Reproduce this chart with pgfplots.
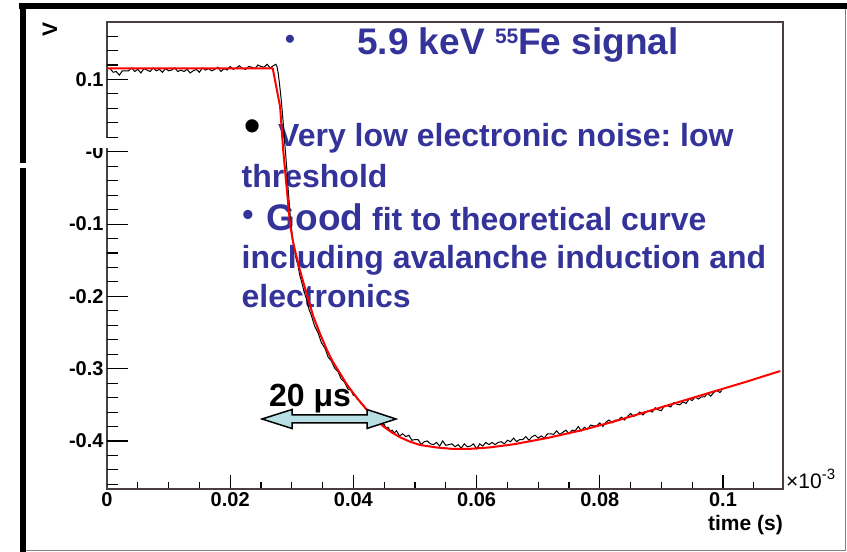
\documentclass[border=0pt]{standalone}
\usepackage{fontspec}
\setmainfont{Liberation Sans}
\usepackage{pgfplots}
\pgfplotsset{compat=1.18}
\definecolor{txtblue}{RGB}{51,51,153}
\definecolor{framec}{RGB}{75,62,62}
\definecolor{arrowfill}{RGB}{184,224,228}
\newcommand{\fs}[1]{\fontsize{#1}{#1}\selectfont}
\frenchspacing
\begin{document}
\begin{tikzpicture}
\path[use as bounding box] (0,0) rectangle (847pt,552pt);
% ---------- slide texts (behind the curves)
\begin{scope}[x=1pt,y=-1pt,yshift=552pt]
\node[anchor=center,inner sep=0,text=txtblue,font=\bfseries\fs{28}] at (290,42) {•};
\node[anchor=base west,inner sep=0,text=txtblue,font=\bfseries\fs{37}] at (357,55) {5.9 keV \raisebox{11.7pt}{\fs{21}55}Fe signal};
\node[anchor=center,inner sep=0,text=black,font=\bfseries\fs{46}] at (253,131) {•};
\node[anchor=base west,inner sep=0,text=txtblue,font=\bfseries\fs{32}] at (278,147) {Very low electronic noise: low};
\node[anchor=base west,inner sep=0,text=txtblue,font=\bfseries\fs{32}] at (241.5,188) {threshold};
\node[anchor=center,inner sep=0,text=txtblue,font=\bfseries\fs{32}] at (248,218) {•};
\node[anchor=base west,inner sep=0,text=txtblue,font=\bfseries\fs{32}] at (266.5,231) {{\fs{37}Good} fit to theoretical curve};
\node[anchor=base west,inner sep=0,text=txtblue,font=\bfseries\fs{32}] at (241.5,269) {including avalanche induction and};
\node[anchor=base west,inner sep=0,text=txtblue,font=\bfseries\fs{32}] at (241.5,308) {electronics};
\node[anchor=base west,inner sep=0,text=black,font=\bfseries\fs{32}] at (269,407) {20 μs};
\end{scope}
% ---------- main axis: data, frame, x ticks
\begin{axis}[
  at={(107pt,63pt)}, anchor=south west,
  scale only axis, width=676pt, height=467pt,
  xmin=0, xmax=0.10974, ymin=-0.4664, ymax=0.1795,
  axis line style={framec, line width=1.2pt},
  xtick={0,0.02,0.04,0.06,0.08,0.1},
  xticklabels={0,0.02,0.04,0.06,0.08,0.1},
  minor xtick={0.005,0.01,0.015,0.025,0.03,0.035,0.045,0.05,0.055,0.065,0.07,0.075,0.085,0.09,0.095,0.105},
  ytick=\empty,
  scaled x ticks=false, scaled y ticks=false,
  xtick pos=bottom, tick align=inside,
  major tick length=14pt, minor tick length=7pt,
  tick style={black, line width=1.1pt},
  xticklabel style={font=\bfseries\fs{20}, text=black},
]
\addplot[black, line width=1pt] coordinates {
(0.0005,0.115)(0.0010,0.110)(0.0015,0.111)(0.0020,0.106)(0.0025,0.112)(0.0030,0.112)
(0.0035,0.112)(0.0040,0.116)(0.0045,0.111)(0.0050,0.114)(0.0055,0.109)(0.0060,0.115)
(0.0065,0.113)(0.0070,0.111)(0.0075,0.116)(0.0080,0.112)(0.0085,0.114)(0.0090,0.110)
(0.0095,0.115)(0.0100,0.112)(0.0105,0.113)(0.0110,0.116)(0.0115,0.111)(0.0120,0.113)
(0.0125,0.111)(0.0130,0.114)(0.0135,0.109)(0.0140,0.112)(0.0145,0.114)(0.0150,0.110)
(0.0155,0.116)(0.0160,0.113)(0.0165,0.115)(0.0170,0.112)(0.0175,0.114)(0.0180,0.117)
(0.0185,0.111)(0.0190,0.115)(0.0195,0.113)(0.0200,0.118)(0.0205,0.114)(0.0210,0.116)
(0.0215,0.119)(0.0220,0.115)(0.0225,0.114)(0.0230,0.118)(0.0235,0.117)(0.0240,0.115)
(0.0245,0.120)(0.0250,0.118)(0.0255,0.117)(0.0260,0.121)(0.0265,0.116)(0.0270,0.119)
(0.0274,0.121)(0.0276,0.118)
(0.0278,0.108)(0.0280,0.094)(0.0282,0.079)(0.0284,0.061)(0.0286,0.041)(0.0288,0.017)
(0.0290,-0.003)(0.0292,-0.025)(0.0294,-0.051)(0.0296,-0.073)(0.0298,-0.094)(0.0300,-0.110)
(0.0302,-0.124)(0.0304,-0.134)(0.0307,-0.148)(0.0310,-0.157)(0.0313,-0.171)(0.0316,-0.180)
(0.0320,-0.194)(0.0324,-0.204)(0.0328,-0.218)(0.0332,-0.227)(0.0337,-0.241)(0.0343,-0.251)
(0.0348,-0.264)(0.0354,-0.272)(0.0359,-0.284)(0.0364,-0.289)(0.0370,-0.300)(0.0375,-0.304)
(0.0380,-0.314)(0.0385,-0.318)(0.0391,-0.328)(0.0396,-0.330)(0.0400,-0.337)
(0.0403,-0.337)(0.0406,-0.342)(0.0410,-0.344)(0.0413,-0.349)(0.0416,-0.350)(0.0420,-0.356)
(0.0423,-0.357)(0.0426,-0.362)(0.0430,-0.363)(0.0433,-0.368)(0.0436,-0.368)(0.0440,-0.373)
(0.0443,-0.374)(0.0446,-0.378)(0.0450,-0.377)(0.0453,-0.382)(0.0456,-0.381)(0.0460,-0.386)
(0.0463,-0.385)(0.0466,-0.389)
(0.0470,-0.386)(0.0475,-0.393)(0.0480,-0.390)(0.0485,-0.394)(0.0490,-0.392)(0.0495,-0.399)
(0.0500,-0.398)(0.0505,-0.398)(0.0510,-0.405)(0.0515,-0.401)(0.0520,-0.400)(0.0525,-0.404)
(0.0530,-0.405)(0.0535,-0.402)(0.0540,-0.407)(0.0545,-0.400)(0.0550,-0.406)(0.0555,-0.405)
(0.0560,-0.404)(0.0565,-0.408)(0.0570,-0.405)(0.0575,-0.410)(0.0580,-0.404)(0.0585,-0.408)
(0.0590,-0.407)(0.0595,-0.404)(0.0600,-0.411)(0.0605,-0.404)(0.0610,-0.407)(0.0615,-0.402)
(0.0620,-0.405)(0.0625,-0.402)(0.0630,-0.405)(0.0635,-0.402)(0.0640,-0.401)(0.0645,-0.404)
(0.0650,-0.399)(0.0655,-0.401)(0.0660,-0.396)(0.0665,-0.401)(0.0670,-0.398)(0.0675,-0.398)
(0.0680,-0.394)(0.0685,-0.399)(0.0690,-0.394)(0.0695,-0.392)(0.0700,-0.396)(0.0705,-0.393)
(0.0710,-0.396)(0.0715,-0.390)(0.0720,-0.390)(0.0725,-0.391)(0.0730,-0.386)(0.0735,-0.391)
(0.0740,-0.388)(0.0745,-0.385)(0.0750,-0.390)(0.0755,-0.385)(0.0760,-0.386)(0.0765,-0.380)
(0.0770,-0.386)(0.0775,-0.381)(0.0780,-0.384)(0.0785,-0.378)(0.0790,-0.379)(0.0795,-0.379)
(0.0800,-0.375)(0.0805,-0.380)(0.0810,-0.374)(0.0815,-0.371)(0.0820,-0.375)(0.0825,-0.371)
(0.0830,-0.371)(0.0835,-0.367)(0.0840,-0.371)(0.0845,-0.366)(0.0850,-0.362)(0.0855,-0.366)
(0.0860,-0.364)(0.0865,-0.360)(0.0870,-0.364)(0.0875,-0.360)(0.0880,-0.358)(0.0885,-0.360)
(0.0890,-0.354)(0.0895,-0.357)(0.0900,-0.358)(0.0905,-0.351)(0.0910,-0.351)(0.0915,-0.353)
(0.0920,-0.347)(0.0925,-0.349)(0.0930,-0.350)(0.0935,-0.346)(0.0940,-0.348)(0.0945,-0.342)
(0.0950,-0.344)(0.0955,-0.339)(0.0960,-0.342)(0.0965,-0.339)(0.0970,-0.339)(0.0975,-0.334)
(0.0980,-0.338)(0.0985,-0.333)(0.0990,-0.330)(0.0995,-0.333)(0.0998,-0.330)
};
\addplot[red, line width=2pt, line join=round] coordinates {
(0.0002,0.1155)(0.0269,0.1155)(0.0281,0.0624)(0.0286,0.0025)(0.0292,-0.0528)
(0.0297,-0.0985)(0.0301,-0.120)(0.0305,-0.1358)(0.0312,-0.160)(0.0319,-0.1815)
(0.0327,-0.205)(0.0335,-0.228)(0.0346,-0.252)(0.0357,-0.274)(0.0367,-0.291)
(0.0378,-0.306)(0.0388,-0.320)(0.0399,-0.333)(0.0410,-0.345)(0.0422,-0.357)
(0.0435,-0.369)(0.0449,-0.380)(0.0462,-0.388)(0.0476,-0.395)(0.0492,-0.401)
(0.0508,-0.4055)(0.0535,-0.409)(0.0562,-0.411)(0.0590,-0.4108)(0.0620,-0.409)
(0.0660,-0.4046)(0.0714,-0.396)(0.0768,-0.3857)(0.0822,-0.3733)(0.0876,-0.3595)
(0.0930,-0.3457)(0.0984,-0.3318)(0.1038,-0.318)(0.1093,-0.3032)
};
\end{axis}
% ---------- second axis: y ticks only
\begin{axis}[
  at={(107pt,63pt)}, anchor=south west,
  scale only axis, width=676pt, height=467pt,
  xmin=0, xmax=0.10974, ymin=-0.4664, ymax=0.1795,
  axis line style={draw=none},
  xtick=\empty,
  ytick={-0.4,-0.3,-0.2,-0.1,0,0.1},
  yticklabels={-0.4,-0.3,-0.2,-0.1,-0,0.1},
  minor ytick={-0.46,-0.44,-0.42,-0.38,-0.36,-0.34,-0.32,-0.28,-0.26,-0.24,-0.22,-0.18,-0.16,-0.14,-0.12,-0.08,-0.06,-0.04,-0.02,0.02,0.04,0.06,0.08,0.12,0.14,0.16},
  scaled x ticks=false, scaled y ticks=false,
  ytick pos=left, tick align=inside,
  major tick length=21pt, minor tick length=10.5pt,
  tick style={black, line width=1.1pt},
  yticklabel style={font=\bfseries\fs{20}, text=black},
]
\addplot[draw=none] coordinates {(0.05,0)};
\end{axis}
% ---------- decorations on top
\begin{scope}[x=1pt,y=-1pt,yshift=552pt]
\fill[white] (60,138.5) rectangle (112,148);
\filldraw[fill=arrowfill, draw=black, line width=1.5pt, line join=miter]
  (262,419) -- (292,409.5) -- (292,415) -- (367,415) -- (367,409.5) -- (396,419)
  -- (367,428.5) -- (367,423) -- (292,423) -- (292,428.5) -- cycle;
\node[anchor=base east,inner sep=0,font=\bfseries\fs{21}] at (783,531) {time (s)};
\node[anchor=base west,inner sep=0,font=\fs{21}] at (786,489) {×10\raisebox{9.5pt}{\fs{15}-3}};
\node[anchor=center,inner sep=0,rotate=90,font=\bfseries\fs{21}] at (50,30) {V};
% outer frame
\fill[black] (19,3.5) rectangle (847,9);
\fill[black] (20,3.5) rectangle (25.5,552);
\draw[gray, line width=1pt] (845.5,9) -- (845.5,550.5) -- (25.5,550.5);
\fill[white] (18,163) rectangle (27,168);
\end{scope}
\end{tikzpicture}
\end{document}
